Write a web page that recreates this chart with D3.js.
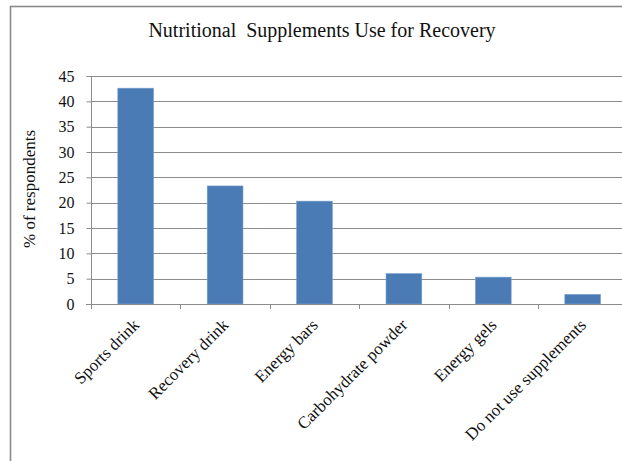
<!DOCTYPE html>
<html>
<head>
<meta charset="utf-8">
<script src="https://cdn.jsdelivr.net/npm/d3@7"></script>
<style>
  html, body { margin: 0; padding: 0; background: #fff; }
  svg { display: block; }
</style>
</head>
<body>
<svg id="chart" width="622" height="461"></svg>
<script>
// Survey results: share of respondents using each supplement for recovery
const categories = ["Sports drink", "Recovery drink", "Energy bars", "Carbohydrate powder", "Energy gels", "Do not use supplements"];
const percentages = [42.6, 23.3, 20.3, 6.0, 5.3, 1.9];
const yTicks = [0, 5, 10, 15, 20, 25, 30, 35, 40, 45];
const chartTitle = "Nutritional\u00a0 Supplements Use for Recovery";
const yTitle = "% of respondents";

const svg = d3.select("#chart");
const font = "'Liberation Serif', 'Times New Roman', serif";

// Outer chart frame (runs off the right and bottom edges)
svg.append("rect")
  .attr("x", 10.5).attr("y", 6.5)
  .attr("width", 640).attr("height", 480)
  .attr("fill", "#fff")
  .attr("stroke", "#8a8a8a")
  .attr("stroke-width", 1.6);

const plot = { left: 91, top: 76, bottom: 304, band: 89.4 };

const x = d3.scaleBand()
  .domain(categories)
  .range([plot.left, plot.left + plot.band * categories.length])
  .paddingInner(0.6)
  .paddingOuter(0.3);

const y = d3.scaleLinear()
  .domain([0, 45])
  .range([plot.bottom, plot.top]);

// Horizontal gridlines
svg.append("g")
  .selectAll("line")
  .data(yTicks.filter(d => d > 0))
  .join("line")
  .attr("x1", plot.left).attr("x2", 640)
  .attr("y1", d => Math.round(y(d)) + 0.5)
  .attr("y2", d => Math.round(y(d)) + 0.5)
  .attr("stroke", "#8c8c8c")
  .attr("stroke-width", 1);

// Bars
svg.append("g")
  .selectAll("rect")
  .data(categories)
  .join("rect")
  .attr("x", d => x(d))
  .attr("width", x.bandwidth())
  .attr("y", (d, i) => y(percentages[i]))
  .attr("height", (d, i) => y(0) - y(percentages[i]))
  .attr("fill", "#4a7bb4")
  .attr("stroke", "#7aa0cf")
  .attr("stroke-width", 0.6);

// Y axis
const yAxis = d3.axisLeft(y).tickValues(yTicks).tickSize(5).tickPadding(12);
const gy = svg.append("g")
  .attr("transform", `translate(${plot.left + 0.5},0)`)
  .call(yAxis);
gy.select(".domain").attr("stroke", "#8c8c8c").attr("d", `M-5,${y(45) + 0.5}H0V${y(0) + 0.5}`);
gy.selectAll(".tick line").attr("stroke", "#8c8c8c");
gy.selectAll(".tick text")
  .attr("font-family", font)
  .attr("font-size", 16)
  .attr("fill", "#111");

// X axis baseline with tick marks between categories
const bandEdges = d3.range(categories.length + 1).map(i => plot.left + i * plot.band);
const gx = svg.append("g");
gx.append("line")
  .attr("x1", plot.left - 5).attr("x2", 640)
  .attr("y1", y(0) + 0.5).attr("y2", y(0) + 0.5)
  .attr("stroke", "#8c8c8c");
gx.selectAll("line.tick")
  .data(bandEdges)
  .join("line")
  .attr("class", "tick")
  .attr("x1", d => Math.round(d) + 0.5).attr("x2", d => Math.round(d) + 0.5)
  .attr("y1", y(0)).attr("y2", y(0) + 5)
  .attr("stroke", "#8c8c8c");

// Rotated category labels
gx.selectAll("text")
  .data(categories)
  .join("text")
  .attr("transform", d => `translate(${x(d) + x.bandwidth() / 2 + 4.5},${y(0) + 22}) rotate(-45)`)
  .attr("text-anchor", "end")
  .attr("font-family", font)
  .attr("font-size", 17)
  .attr("fill", "#111")
  .text(d => d);

// Titles
svg.append("text")
  .attr("x", 322).attr("y", 37)
  .attr("text-anchor", "middle")
  .attr("font-family", font)
  .attr("font-size", 20)
  .attr("fill", "#111")
  .text(chartTitle);

svg.append("text")
  .attr("transform", `translate(35,189) rotate(-90)`)
  .attr("text-anchor", "middle")
  .attr("font-family", font)
  .attr("font-size", 17)
  .attr("fill", "#111")
  .text(yTitle);
</script>
</body>
</html>
